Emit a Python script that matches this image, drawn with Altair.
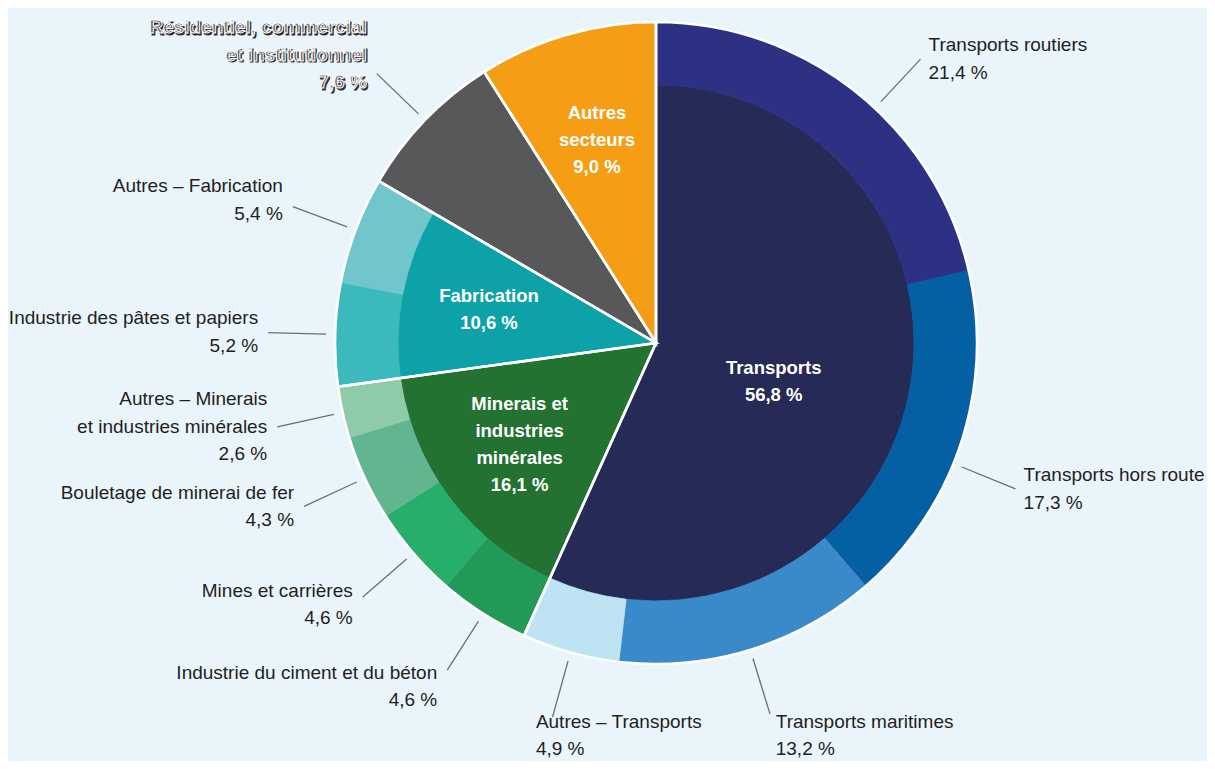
import math
import altair as alt
import pandas as pd

# ---------------- data ----------------
SECTORS = [
    "Transports",
    "Minerais et industries minérales",
    "Fabrication",
    "Résidentiel, commercial et institutionnel",
    "Autres secteurs",
]
SECTOR_SHARES = [56.8, 16.1, 10.6, 7.6, 9.0]
SECTOR_LABELS = [
    "Transports",
    "Minerais et\nindustries\nminérales",
    "Fabrication",
    "Résidentiel, commercial\net institutionnel",
    "Autres\nsecteurs",
]

SUBSECTORS = [
    "Transports routiers",
    "Transports hors route",
    "Transports maritimes",
    "Autres – Transports",
    "Industrie du ciment et du béton",
    "Mines et carrières",
    "Bouletage de minerai de fer",
    "Autres – Minerais et industries minérales",
    "Industrie des pâtes et papiers",
    "Autres – Fabrication",
]
SUBSECTOR_PARENTS = [
    "Transports", "Transports", "Transports", "Transports",
    "Minerais et industries minérales", "Minerais et industries minérales",
    "Minerais et industries minérales", "Minerais et industries minérales",
    "Fabrication", "Fabrication",
]
SUBSECTOR_SHARES = [21.4, 17.3, 13.2, 4.9, 4.6, 4.6, 4.3, 2.6, 5.2, 5.4]
SUBSECTOR_LABELS = [
    "Transports routiers",
    "Transports hors route",
    "Transports maritimes",
    "Autres – Transports",
    "Industrie du ciment et du béton",
    "Mines et carrières",
    "Bouletage de minerai de fer",
    "Autres – Minerais\net industries minérales",
    "Industrie des pâtes et papiers",
    "Autres – Fabrication",
]

# ---------------- style / layout ----------------
SECTOR_COLORS = ["#252A56", "#237232", "#0DA1A8", "#58585A", "#F59D15"]
SUBSECTOR_COLORS = ["#2D3183", "#045FA3", "#3A89C9", "#BEE3F2",
                    "#229A57", "#28AE6B", "#62B68F", "#8FCAA9",
                    "#3CB9BD", "#70C6CA"]
SECTOR_LABEL_OUTSIDE = [False, False, False, True, False]
LEADER_ANGLE_SHIFT = {"Transports routiers": 4.5, "Transports hors route": 4.0}
INNER_ANGLE_SHIFT = {"Transports": 6.0}

W, H = 1199, 753
CX, CY = 648, 335
R_IN, R_OUT = 258, 321
LEAD_R1, LEAD_R2 = 330, 388
BG = "#EAF4FB"
FONT = "Liberation Sans, Arial, Helvetica, sans-serif"
TEXT_COLOR = "#231F20"
LINE_H = 27.5
INNER_LINE_H = 27
BOTTOM_PAD = 12


def pct(v):
    return f"{v:.1f}".replace(".", ",") + " %"


total = sum(SECTOR_SHARES)


def to_deg(v):
    return v / total * 360.0


# sectors (inner pie)
sec_rows = []
sector_start = {}
cur = 0.0
for name, share, lab, outside in zip(SECTORS, SECTOR_SHARES, SECTOR_LABELS, SECTOR_LABEL_OUTSIDE):
    has_sub = name in SUBSECTOR_PARENTS
    sec_rows.append(dict(name=name, start=cur, end=cur + share, r0=0,
                         r1=R_IN if has_sub else R_OUT, share=share, label=lab,
                         outside=outside))
    sector_start[name] = cur
    cur += share
sectors = pd.DataFrame(sec_rows)

# subsectors (outer ring)
cursor = dict(sector_start)
ring_rows = []
for name, parent, share, lab in zip(SUBSECTORS, SUBSECTOR_PARENTS, SUBSECTOR_SHARES, SUBSECTOR_LABELS):
    s = cursor[parent]
    cursor[parent] += share
    ring_rows.append(dict(name=name, start=s, end=s + share, r0=R_IN, r1=R_OUT,
                          share=share, label=lab))
ring = pd.DataFrame(ring_rows)

# outer labels with leader lines
lab_rows = []
items = [(r["name"], r["label"], r["start"], r["end"], r["share"], False) for r in ring_rows]
items += [(r["name"], r["label"], r["start"], r["end"], r["share"], True)
          for r in sec_rows if r["outside"]]
for name, label, s, e, share, styled in items:
    mid = to_deg((s + e) / 2) + LEADER_ANGLE_SHIFT.get(name, 0.0)
    t = math.radians(mid)
    sn, cs = math.sin(t), math.cos(t)
    x1, y1 = CX + LEAD_R1 * sn, CY - LEAD_R1 * cs
    x2, y2 = CX + LEAD_R2 * sn, CY - LEAD_R2 * cs
    text = label + "\n" + pct(share)
    n = text.count("\n") + 1
    if cs < 0:
        vy = 12 * n * max(0.0, abs(cs) - 0.5) / 0.5
    elif sn < 0:
        vy = -9 * n * cs
    else:
        vy = 0.0
    if abs(mid - 180) < 25:
        align, tx = "left", x2 - 6 + 40 * sn
    elif sn > 0:
        align, tx = "left", x2 + 8
    else:
        align, tx = "right", x2 - 10
    center = y2 + vy
    first = center - (n - 1) / 2 * LINE_H
    # keep the last line inside the drawing area
    first = min(first, H - BOTTOM_PAD - (n - 1) * LINE_H)
    lab_rows.append(dict(name=name, text=text, x1=x1, y1=y1, x2=x2, y2=y2,
                         tx=tx, ty=first, align=align, styled=styled))
labels = pd.DataFrame(lab_rows)

# inner labels
in_rows = []
for r in sec_rows:
    if r["outside"]:
        continue
    mid = math.radians(to_deg((r["start"] + r["end"]) / 2) + INNER_ANGLE_SHIFT.get(r["name"], 0.0))
    frac = 0.48 if r["share"] > 30 else 0.66
    rr = frac * r["r1"]
    text = r["label"] + "\n" + pct(r["share"])
    n = text.count("\n") + 1
    center = CY - rr * math.cos(mid)
    in_rows.append(dict(text=text, tx=CX + rr * math.sin(mid),
                        ty=center - (n - 1) / 2 * INNER_LINE_H))
inner = pd.DataFrame(in_rows)

# ---------------- scales ----------------
ALL_NAMES = SECTORS + SUBSECTORS
ALL_COLORS = SECTOR_COLORS + SUBSECTOR_COLORS
color_s = alt.Scale(domain=ALL_NAMES, range=ALL_COLORS)
theta_s = alt.Scale(domain=[0, total], range=[0, 2 * math.pi])
rad_s = alt.Scale(type="linear", domain=[0, R_OUT], range=[0, R_OUT], zero=True, nice=False)
xs = alt.Scale(domain=[0, W], range=[0, W], nice=False, zero=False)
ys = alt.Scale(domain=[0, H], range=[0, H], nice=False, zero=False)


def arc_layer(df):
    return alt.Chart(df).mark_arc(strokeWidth=0.8).encode(
        theta=alt.Theta("start:Q", scale=theta_s, stack=False),
        theta2="end:Q",
        radius=alt.Radius("r1:Q", scale=rad_s),
        radius2="r0:Q",
        fill=alt.Fill("name:N", scale=color_s, legend=None),
        stroke=alt.Stroke("name:N", scale=color_s, legend=None),
        x=alt.value(CX),
        y=alt.value(CY),
    )


sector_arcs = arc_layer(sectors)
ring_arcs = arc_layer(ring)

outline = alt.Chart(sectors).mark_arc(
    fill="white", fillOpacity=0, stroke="white", strokeWidth=2.6,
    radius=R_OUT, radius2=0,
).encode(
    theta=alt.Theta("start:Q", scale=theta_s, stack=False),
    theta2="end:Q",
    x=alt.value(CX),
    y=alt.value(CY),
)

leaders = alt.Chart(labels).mark_rule(color="#6D6E71", strokeWidth=1.3).encode(
    x=alt.X("x1:Q", scale=xs, axis=None),
    y=alt.Y("y1:Q", scale=ys, axis=None),
    x2="x2:Q",
    y2="y2:Q",
)


def text_layer(align):
    return alt.Chart(labels).transform_filter(
        (alt.datum.align == align) & (alt.datum.styled == False)
    ).mark_text(
        align=align, baseline="middle", lineBreak="\n", font=FONT, fontSize=19,
        lineHeight=LINE_H, color=TEXT_COLOR,
    ).encode(
        x=alt.X("tx:Q", scale=xs, axis=None),
        y=alt.Y("ty:Q", scale=ys, axis=None),
        text="text:N",
    )


def styled_layer(**kw):
    return alt.Chart(labels).transform_filter(alt.datum.styled == True).mark_text(
        baseline="middle", lineBreak="\n", font=FONT, fontSize=19,
        fontWeight="bold", lineHeight=LINE_H, **kw
    ).encode(
        x=alt.X("tx:Q", scale=xs, axis=None),
        y=alt.Y("ty:Q", scale=ys, axis=None),
        text="text:N",
    )


styled_shadow = styled_layer(align="right", color="#2E2E2E", dx=1.5, dy=1.5,
                             stroke="#2E2E2E", strokeWidth=1.0)
styled_main = styled_layer(align="right", color="#626264", stroke="white", strokeWidth=1.0)

inner_text = alt.Chart(inner).mark_text(
    align="center", baseline="middle", lineBreak="\n", font=FONT, fontSize=18.5,
    fontWeight="bold", lineHeight=INNER_LINE_H, color="white",
).encode(
    x=alt.X("tx:Q", scale=xs, axis=None),
    y=alt.Y("ty:Q", scale=ys, axis=None),
    text="text:N",
)

chart = alt.layer(
    sector_arcs, ring_arcs, outline, leaders,
    text_layer("left"), text_layer("right"),
    styled_shadow, styled_main, inner_text,
).properties(
    width=W, height=H, padding=0,
    autosize=alt.AutoSizeParams(type="none"),
    background=BG,
).configure_view(strokeWidth=0)

chart.save("out.html", embed_options={"renderer": "svg", "actions": False})
